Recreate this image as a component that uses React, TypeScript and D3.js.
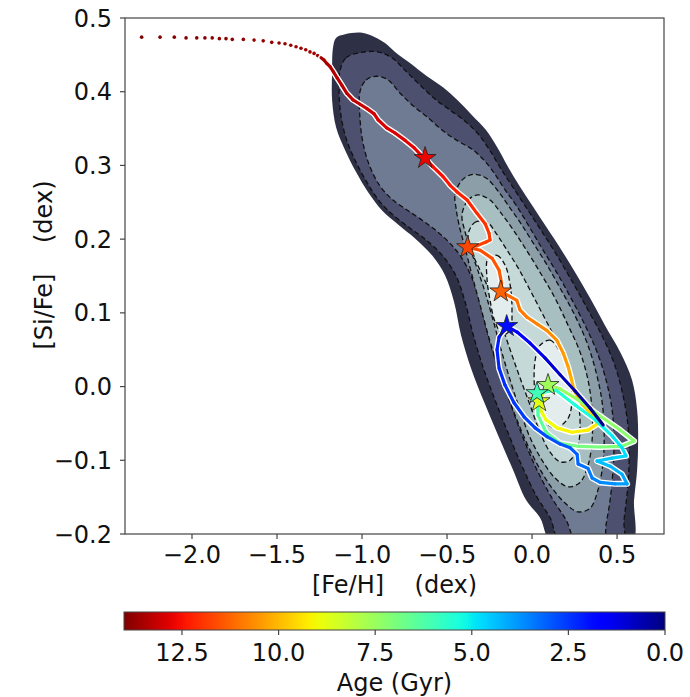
import React from 'react';
import * as d3 from 'd3';

type P = [number, number];
type T = [number, number, number];

const xTicks = [-2.0, -1.5, -1.0, -0.5, 0.0, 0.5];
const yTicks = [-0.2, -0.1, 0.0, 0.1, 0.2, 0.3, 0.4, 0.5];
const ageTicks = [12.5, 10.0, 7.5, 5.0, 2.5, 0.0];

// density contour levels (outermost first), [Fe/H], [Si/Fe]
const level1: P[] = [[-1.171,0.459],[-1.153,0.473],[-1.100,0.478],[-1.000,0.480],[-0.924,0.474],[-0.865,0.466],[-0.806,0.454],[-0.718,0.439],[-0.618,0.421],[-0.524,0.406],[-0.441,0.389],[-0.353,0.368],[-0.271,0.348],[-0.206,0.325],[-0.141,0.298],[-0.071,0.271],[0.006,0.244],[0.088,0.215],[0.165,0.188],[0.253,0.155],[0.341,0.120],[0.429,0.083],[0.518,0.047],[0.588,0.009],[0.618,-0.032],[0.624,-0.073],[0.618,-0.113],[0.600,-0.154],[0.582,-0.215],[0.124,-0.215],[0.047,-0.178],[-0.035,-0.154],[-0.112,-0.113],[-0.200,-0.066],[-0.282,-0.021],[-0.359,0.025],[-0.418,0.070],[-0.459,0.115],[-0.512,0.151],[-0.588,0.178],[-0.688,0.201],[-0.788,0.220],[-0.882,0.239],[-0.965,0.264],[-1.035,0.291],[-1.100,0.321],[-1.153,0.352],[-1.176,0.389],[-1.176,0.427]];
const level2: P[] = [[-1.129,0.429],[-1.094,0.446],[-1.012,0.453],[-0.906,0.454],[-0.824,0.446],[-0.747,0.429],[-0.659,0.409],[-0.571,0.390],[-0.482,0.375],[-0.394,0.360],[-0.318,0.343],[-0.247,0.320],[-0.182,0.295],[-0.106,0.268],[-0.029,0.241],[0.053,0.212],[0.141,0.180],[0.235,0.143],[0.329,0.104],[0.418,0.066],[0.488,0.028],[0.535,-0.012],[0.565,-0.055],[0.571,-0.100],[0.559,-0.145],[0.541,-0.181],[0.529,-0.215],[0.176,-0.215],[0.106,-0.178],[0.029,-0.150],[-0.059,-0.108],[-0.141,-0.063],[-0.218,-0.018],[-0.288,0.026],[-0.347,0.071],[-0.394,0.115],[-0.447,0.150],[-0.524,0.177],[-0.624,0.199],[-0.724,0.216],[-0.824,0.234],[-0.906,0.254],[-0.976,0.279],[-1.041,0.307],[-1.094,0.337],[-1.124,0.368],[-1.135,0.400]];
const level3: P[] = [[-1.012,0.400],[-0.976,0.416],[-0.912,0.421],[-0.847,0.416],[-0.776,0.398],[-0.700,0.381],[-0.618,0.366],[-0.524,0.347],[-0.435,0.333],[-0.353,0.322],[-0.282,0.307],[-0.224,0.290],[-0.165,0.269],[-0.088,0.244],[-0.012,0.215],[0.065,0.185],[0.147,0.154],[0.229,0.120],[0.312,0.083],[0.382,0.047],[0.435,0.009],[0.471,-0.032],[0.482,-0.073],[0.476,-0.113],[0.459,-0.154],[0.435,-0.188],[0.418,-0.215],[0.271,-0.215],[0.200,-0.181],[0.124,-0.154],[0.035,-0.116],[-0.047,-0.073],[-0.118,-0.029],[-0.188,0.016],[-0.247,0.060],[-0.300,0.107],[-0.353,0.147],[-0.424,0.178],[-0.512,0.201],[-0.612,0.220],[-0.718,0.237],[-0.818,0.253],[-0.894,0.272],[-0.953,0.298],[-0.994,0.330],[-1.012,0.364]];
const level4: P[] = [[-0.447,0.242],[-0.453,0.260],[-0.412,0.280],[-0.347,0.288],[-0.271,0.283],[-0.206,0.267],[-0.141,0.246],[-0.071,0.223],[0.006,0.195],[0.088,0.165],[0.171,0.131],[0.253,0.096],[0.324,0.059],[0.376,0.020],[0.412,-0.021],[0.424,-0.062],[0.418,-0.102],[0.388,-0.140],[0.341,-0.165],[0.271,-0.170],[0.194,-0.158],[0.106,-0.134],[0.018,-0.100],[-0.059,-0.062],[-0.129,-0.021],[-0.194,0.022],[-0.253,0.066],[-0.306,0.111],[-0.353,0.151],[-0.394,0.188],[-0.429,0.219]];
const level5: P[] = [[-0.412,0.233],[-0.376,0.253],[-0.318,0.260],[-0.247,0.253],[-0.188,0.237],[-0.118,0.215],[-0.041,0.188],[0.047,0.155],[0.135,0.120],[0.212,0.083],[0.282,0.047],[0.329,0.009],[0.353,-0.032],[0.353,-0.073],[0.329,-0.107],[0.282,-0.130],[0.212,-0.136],[0.135,-0.124],[0.059,-0.100],[-0.012,-0.069],[-0.071,-0.032],[-0.129,0.009],[-0.182,0.050],[-0.229,0.090],[-0.276,0.128],[-0.324,0.161],[-0.365,0.188],[-0.394,0.210]];
const level6: P[] = [[-0.376,0.206],[-0.335,0.223],[-0.265,0.223],[-0.206,0.206],[-0.147,0.185],[-0.082,0.161],[-0.012,0.131],[0.065,0.097],[0.141,0.063],[0.206,0.029],[0.259,-0.007],[0.282,-0.045],[0.271,-0.079],[0.224,-0.100],[0.165,-0.102],[0.106,-0.089],[0.047,-0.062],[-0.012,-0.025],[-0.071,0.012],[-0.129,0.050],[-0.188,0.090],[-0.247,0.128],[-0.306,0.158],[-0.353,0.182]];
const level7a: P[] = [[-0.259,0.174],[-0.206,0.178],[-0.159,0.165],[-0.129,0.138],[-0.118,0.104],[-0.129,0.077],[-0.171,0.070],[-0.218,0.088],[-0.247,0.117],[-0.265,0.147]];
const level7b: P[] = [[0.047,0.056],[0.106,0.063],[0.165,0.047],[0.212,0.020],[0.235,-0.012],[0.212,-0.043],[0.135,-0.056],[0.065,-0.045],[0.024,-0.018],[0.012,0.016],[0.024,0.043]];

const contourLevels: P[][][] = [[level1], [level2], [level3], [level4], [level5], [level6], [level7a, level7b]];
const levelFills = ['#2e3046', '#4e5070', '#6e7b92', '#8c9fa9', '#a8bfc2', '#c6d9d9', '#e4eded'];

// early sparse model points: [Fe/H], [Si/Fe], age (Gyr)
const earlyDots: T[] = [[-2.296,0.474,13.99],[-2.188,0.474,13.97],[-2.104,0.474,13.95],[-2.035,0.473,13.93],[-1.972,0.473,13.91],[-1.924,0.473,13.89],[-1.881,0.473,13.87],[-1.839,0.472,13.85],[-1.800,0.472,13.83],[-1.763,0.471,13.81],[-1.698,0.471,13.79],[-1.635,0.470,13.77],[-1.581,0.469,13.75],[-1.531,0.467,13.73],[-1.488,0.466,13.71],[-1.453,0.465,13.69],[-1.419,0.463,13.67],[-1.388,0.461,13.65],[-1.359,0.459,13.63],[-1.331,0.457,13.61],[-1.306,0.454,13.6],[-1.282,0.452,13.58],[-1.261,0.449,13.57],[-1.241,0.446,13.56]];

// continuous part of the track
const trackPoints: T[] = [[-1.241,0.446,13.56],[-1.224,0.443,13.55],[-1.206,0.438,13.5],[-1.188,0.434,13.45],[-1.168,0.427,13.4],[-1.147,0.419,13.35],[-1.119,0.409,13.3],[-1.090,0.398,13.25],[-1.053,0.389,13.2],[-1.012,0.383,13.15],[-0.971,0.377,13.1],[-0.929,0.370,13.05],[-0.906,0.362,13.0],[-0.855,0.351,12.95],[-0.806,0.344,12.9],[-0.747,0.334,12.85],[-0.694,0.324,12.8],[-0.653,0.314,12.75],[-0.629,0.310,12.7],[-0.582,0.298,12.6],[-0.524,0.285,12.5],[-0.482,0.273,12.4],[-0.441,0.264,12.3],[-0.382,0.253,12.2],[-0.324,0.235,12.1],[-0.276,0.221,12.0],[-0.253,0.208,11.9],[-0.247,0.199,11.85],[-0.271,0.196,11.8],[-0.325,0.191,11.75],[-0.379,0.189,11.7],[-0.306,0.185,11.6],[-0.235,0.174,11.5],[-0.194,0.158,11.45],[-0.179,0.140,11.4],[-0.184,0.129,11.3],[-0.129,0.122,11.2],[-0.090,0.117,11.1],[-0.071,0.104,11.0],[-0.029,0.094,10.9],[0.029,0.085,10.8],[0.088,0.076,10.7],[0.145,0.063,10.6],[0.184,0.045,10.5],[0.212,0.027,10.35],[0.229,0.012,10.2],[0.247,-0.005,10.0],[0.294,-0.024,9.8],[0.371,-0.043,9.5],[0.382,-0.051,9.35],[0.329,-0.059,9.25],[0.235,-0.062,9.15],[0.147,-0.056,9.05],[0.082,-0.045,8.95],[0.053,-0.033,8.85],[0.041,-0.020,8.7],[0.065,-0.009,8.2],[0.094,0.002,7.6],[0.165,-0.003,7.5],[0.271,-0.018,7.45],[0.400,-0.040,7.35],[0.518,-0.059,7.3],[0.600,-0.074,7.2],[0.529,-0.081,7.1],[0.400,-0.082,7.0],[0.271,-0.081,6.9],[0.165,-0.077,6.8],[0.082,-0.062,6.6],[0.035,-0.039,6.4],[0.029,-0.009,6.0],[0.141,-0.005,5.6],[0.253,-0.025,5.4],[0.371,-0.045,5.2],[0.471,-0.067,5.0],[0.529,-0.083,4.9],[0.553,-0.094,4.8],[0.471,-0.097,4.6],[0.382,-0.101,4.4],[0.459,-0.108,4.3],[0.529,-0.119,4.2],[0.559,-0.132,4.0],[0.488,-0.132,3.8],[0.400,-0.130,3.6],[0.353,-0.124,3.5],[0.329,-0.111,3.35],[0.271,-0.105,3.2],[0.265,-0.092,3.1],[0.224,-0.083,3.0],[0.165,-0.078,2.9],[0.088,-0.068,2.8],[0.018,-0.056,2.7],[-0.047,-0.041,2.6],[-0.106,-0.022,2.5],[-0.159,0.002,2.4],[-0.194,0.025,2.3],[-0.206,0.050,2.2],[-0.194,0.067,2.1],[-0.149,0.082,1.9],[-0.088,0.074,1.7],[-0.012,0.059,1.45],[0.076,0.039,1.15],[0.165,0.016,0.85],[0.253,-0.006,0.55],[0.341,-0.029,0.25],[0.418,-0.052,0.0]];

// star markers: [Fe/H], [Si/Fe], age
const starPoints: T[] = [[-0.629,0.310,12.7],[-0.379,0.189,11.7],[-0.184,0.129,11.3],[0.041,-0.020,8.7],[0.094,0.002,7.6],[0.029,-0.009,6.0],[-0.149,0.082,1.9]];

const jetR: P[] = [[0,0],[0.35,0],[0.66,1],[0.89,1],[1,0.5]];
const jetG: P[] = [[0,0],[0.125,0],[0.375,1],[0.64,1],[0.91,0],[1,0]];
const jetB: P[] = [[0,0.5],[0.11,1],[0.34,1],[0.65,0],[1,0]];
function seg(stops: P[], t: number) {
  for (let i = 1; i < stops.length; i++) {
    if (t <= stops[i][0]) {
      const [x0, y0] = stops[i - 1], [x1, y1] = stops[i];
      return y0 + (y1 - y0) * (t - x0) / (x1 - x0);
    }
  }
  return stops[stops.length - 1][1];
}
function jet(t: number) {
  t = Math.max(0, Math.min(1, t));
  return d3.rgb(255 * seg(jetR, t), 255 * seg(jetG, t), 255 * seg(jetB, t)).formatHex();
}

const FONT = 'DejaVu Sans, sans-serif';
const FS = 24;

export default function App() {
  const L = 125, R = 664, TOP = 18, BOT = 534;
  const x = d3.scaleLinear().domain([-2.394, 0.776]).range([L, R]);
  const y = d3.scaleLinear().domain([-0.2, 0.5]).range([BOT, TOP]);
  const cb = d3.scaleLinear().domain([14, 0]).range([124, 665]);
  const ageColor = (a: number) => jet(a / 14);
  const poly = d3.line<P>().x(d => x(d[0])).y(d => y(d[1])).curve(d3.curveCatmullRomClosed.alpha(0.5));
  const trackLine = d3.line<T>().x(d => x(d[0])).y(d => y(d[1]));
  const star = d3.symbol().type(d3.symbolStar).size(150)() as string;
  const fmt1 = d3.format('.1f');
  const gradStops = d3.range(0, 61).map(i => i / 60);

  return (
    <svg width={690} height={697} style={{ position: 'absolute', left: 0, top: 0, background: '#fff' }} fontFamily={FONT}>
      <defs>
        <clipPath id="plotclip"><rect x={L} y={TOP} width={R - L} height={BOT - TOP} /></clipPath>
        <linearGradient id="jetgrad" x1="0" x2="1" y1="0" y2="0">
          {gradStops.map(s => <stop key={s} offset={s} stopColor={jet(1 - s)} />)}
        </linearGradient>
      </defs>
      <rect x={0} y={0} width={690} height={697} fill="#fff" />
      <g clipPath="url(#plotclip)">
        {contourLevels.map((polys, li) => polys.map((pg, pi) => (
          <path key={`c${li}-${pi}`} d={poly(pg) as string} fill={levelFills[li]}
            stroke={li === 0 ? 'none' : '#111'} strokeWidth={1.3} strokeDasharray="5,3" />
        )))}
        {earlyDots.map((d, i) => (
          <circle key={`d${i}`} cx={x(d[0])} cy={y(d[1])} r={1.8} fill={ageColor(d[2])} />
        ))}
        <path d={trackLine(trackPoints) as string} fill="none" stroke="#fff" strokeWidth={6} strokeLinejoin="round" strokeLinecap="round" />
        {trackPoints.slice(1).map((d, i) => {
          const p = trackPoints[i];
          return <line key={`t${i}`} x1={x(p[0])} y1={y(p[1])} x2={x(d[0])} y2={y(d[1])}
            stroke={ageColor((p[2] + d[2]) / 2)} strokeWidth={3.2} strokeLinecap="round" />;
        })}
        {starPoints.map((s, i) => (
          <path key={`s${i}`} d={star} transform={`translate(${x(s[0])},${y(s[1])})`}
            fill={ageColor(s[2])} stroke="#222" strokeWidth={0.8} />
        ))}
      </g>
      <rect x={L} y={TOP} width={R - L} height={BOT - TOP} fill="none" stroke="#444" strokeWidth={1.2} />
      {yTicks.map(t => (
        <g key={`y${t}`}>
          <line x1={L - 5} x2={L} y1={y(t)} y2={y(t)} stroke="#444" strokeWidth={1.2} />
          <text x={L - 13} y={y(t) + 8.5} textAnchor="end" fontSize={FS} fill="#111">{fmt1(t)}</text>
        </g>
      ))}
      {xTicks.map(t => (
        <g key={`x${t}`}>
          <line x1={x(t)} x2={x(t)} y1={BOT} y2={BOT + 5} stroke="#444" strokeWidth={1.2} />
          <text x={x(t)} y={BOT + 29} textAnchor="middle" fontSize={FS} fill="#111">{fmt1(t)}</text>
        </g>
      ))}
      <text x={(L + R) / 2} y={593} textAnchor="middle" fontSize={FS} fill="#111" style={{ whiteSpace: 'pre' }}>{'[Fe/H]    (dex)'}</text>
      <text transform={`translate(52,265) rotate(-90)`} textAnchor="middle" fontSize={FS} fill="#111" style={{ whiteSpace: 'pre' }}>{'[Si/Fe]    (dex)'}</text>
      <rect x={124} y={612} width={541} height={18} fill="url(#jetgrad)" stroke="#444" strokeWidth={1} />
      {ageTicks.map(t => (
        <g key={`a${t}`}>
          <line x1={cb(t)} x2={cb(t)} y1={630} y2={635} stroke="#444" strokeWidth={1.2} />
          <text x={cb(t)} y={661} textAnchor="middle" fontSize={FS} fill="#111">{fmt1(t)}</text>
        </g>
      ))}
      <text x={(124 + 665) / 2} y={691} textAnchor="middle" fontSize={FS} fill="#111">Age (Gyr)</text>
    </svg>
  );
}
